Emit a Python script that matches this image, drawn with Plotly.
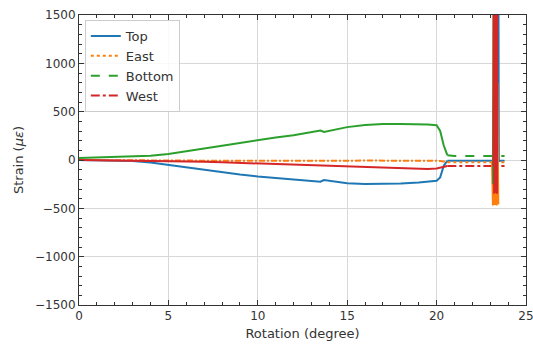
import plotly.graph_objects as go

# ---- Loading phase (dense, noisy readings -> render as continuous lines) ----
rot_load = [0, 1, 2, 3, 4, 5, 6, 7, 8, 9, 10, 11, 12, 13, 13.5, 13.7, 14, 15, 16, 17, 18, 19,
            19.5, 20, 20.2, 20.4, 20.6]
top_load = [0, -2, -5, -10, -25, -50, -80, -105, -130, -150, -170, -185, -200, -215, -225, -207, -215, -240,
            -248, -248, -242, -232, -226, -215, -180, -60, -8]
east_load = [0, -2, -3, -4, -5, -5, -6, -7, -7, -8, -8, -8, -8, -8, -8, -8, -8, -7, -6, -5, -5, -6,
             -7, -8, -10, -18, -22]
bottom_load = [20, 25, 30, 35, 45, 62, 88, 118, 148, 178, 207, 232, 255, 288, 305, 290, 300, 340, 362, 372,
               372, 370, 368, 360, 300, 150, 50]
west_load = [0, -2, -4, -6, -8, -10, -14, -18, -24, -30, -36, -42, -50, -56, -60, -60, -62, -68, -74, -80,
             -86, -92, -92, -88, -80, -66, -62]

# ---- Post-failure plateau ----
rot_flat = [20.6, 21, 22, 23, 23.8]
top_flat = [-8, -8, -8, -8, -8]
east_flat = [-22, -22, -22, -22, -22]
bottom_flat = [50, 42, 42, 42, 42]
west_flat = [-62, -62, -62, -62, -62]

# ---- Gauge failure spike near 23.3 degree ----
top_spike_rot = [23.36, 23.39, 23.42, 23.45, 23.48]
top_spike = [-8, 2500, -40, 2500, -20]
east_spike_rot = [23.1, 23.15, 23.2, 23.25, 23.3, 23.35, 23.4, 23.45]
east_spike = [-22, -470, 600, -465, 700, -470, 800, -460]
bottom_spike_rot = [23.15, 23.2, 23.25, 23.3, 23.35, 23.4]
bottom_spike = [-250, 2500, -200, 2500, -250, 2500]
west_spike_rot = [23.18, 23.2, 23.22, 23.24, 23.26, 23.28, 23.30, 23.32, 23.34, 23.36, 23.38, 23.40]
west_spike = [-62, 2500, -350, 2500, -320, 2500, -340, 2500, -300, 2500, -350, 2500]

names = ["Top", "East", "Bottom", "West"]
colors = ["#1f77b4", "#ff7f0e", "#2ca02c", "#d62728"]
dashes = ["solid", "dot", "dash", "dashdot"]
load_dashes = ["solid", "6px,2px,2px,2px", "solid", "solid"]
loads = [top_load, east_load, bottom_load, west_load]
flats = [top_flat, east_flat, bottom_flat, west_flat]
spikes = [(top_spike_rot, top_spike), (east_spike_rot, east_spike),
          (bottom_spike_rot, bottom_spike), (west_spike_rot, west_spike)]

fig = go.Figure()
for name, color, dash, flat in zip(names, colors, dashes, flats):
    fig.add_trace(go.Scatter(x=rot_flat, y=flat, mode="lines", name=name, legendgroup=name,
                             line=dict(color=color, width=2, dash=dash)))
for name, color, ldash, load, (srot, sval) in zip(names, colors, load_dashes, loads, spikes):
    fig.add_trace(go.Scatter(x=rot_load, y=load, mode="lines", name=name, legendgroup=name,
                             showlegend=False, line=dict(color=color, width=2, dash=ldash)))
    fig.add_trace(go.Scatter(x=srot, y=sval, mode="lines", name=name, legendgroup=name,
                             showlegend=False, line=dict(color=color, width=2)))

axis_common = dict(
    showline=True, linecolor="#333333", linewidth=1, mirror="allticks",
    ticks="inside", ticklen=5, tickwidth=1, tickcolor="#333333",
    showgrid=True, gridcolor="#d8d8d8", gridwidth=1, zeroline=False, automargin=False,
    ticklabeloverflow="allow",
    tickfont=dict(family="DejaVu Sans", size=12, color="#333333"),
)

fig.update_xaxes(range=[0, 25], dtick=5, tick0=0,
                 minor=dict(dtick=1, ticks="inside", ticklen=3, tickcolor="#333333", showgrid=False),
                 title=dict(text="Rotation (degree)", font=dict(family="DejaVu Sans", size=13, color="#333333"), standoff=6),
                 **axis_common)
fig.update_yaxes(range=[-1500, 1500], dtick=500, tick0=0,
                 minor=dict(dtick=100, ticks="inside", ticklen=3, tickcolor="#333333", showgrid=False),
                 title=dict(text="Strain (<i>με</i>)", font=dict(family="DejaVu Sans", size=13, color="#333333"), standoff=8),
                 **axis_common)

fig.update_layout(
    width=533, height=345,
    margin=dict(l=79, r=7, t=15, b=40),
    plot_bgcolor="white", paper_bgcolor="white",
    font=dict(family="DejaVu Sans", size=12, color="#333333"),
    legend=dict(x=0.013, y=0.983, xanchor="left", yanchor="top",
                bgcolor="rgba(255,255,255,0.85)", bordercolor="#cccccc", borderwidth=1,
                font=dict(family="DejaVu Sans", size=13, color="#333333"),
                tracegroupgap=0, itemwidth=30),
    showlegend=True,
)

fig.write_html("out.html", config={"displayModeBar": False},
               post_script="document.body.style.margin='0';document.body.style.overflow='hidden';")
